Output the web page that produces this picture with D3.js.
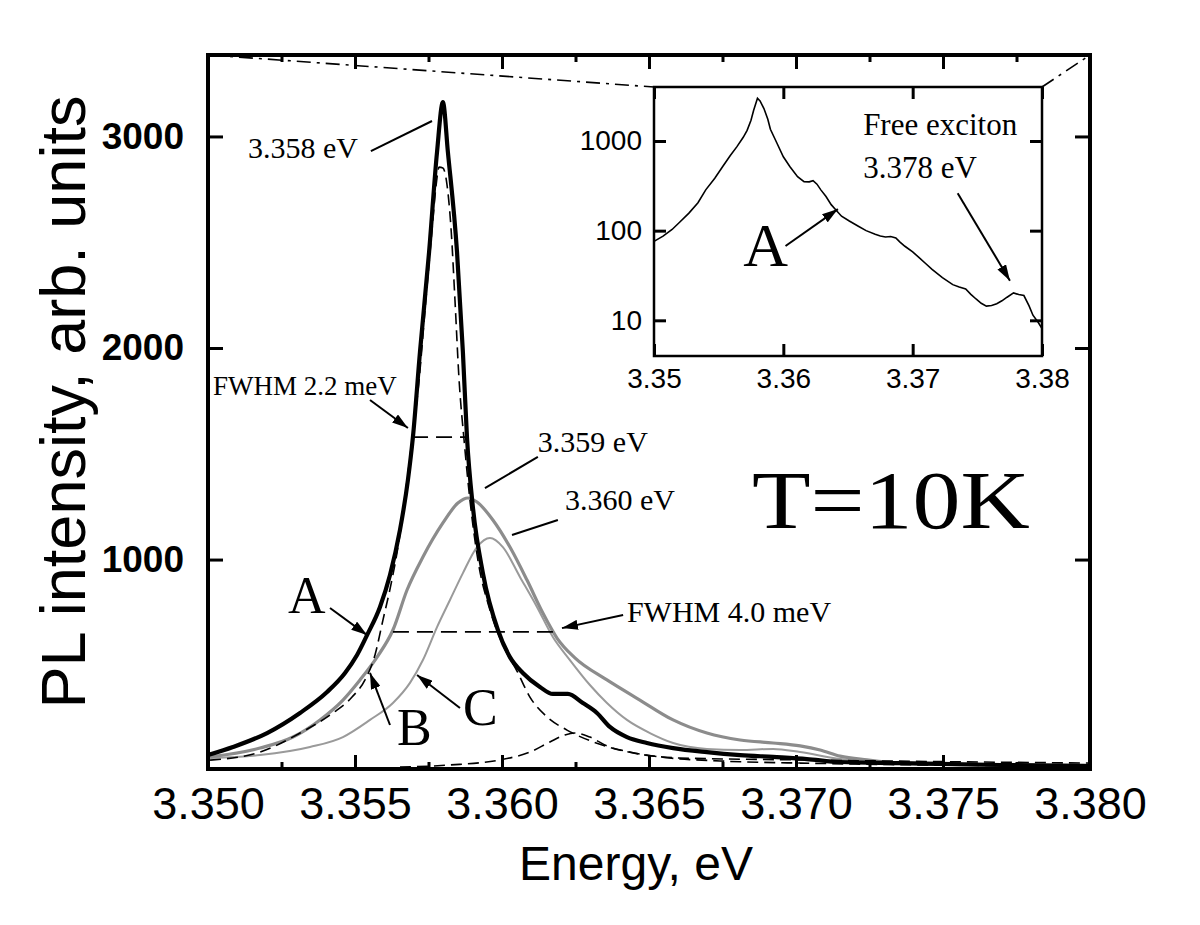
<!DOCTYPE html>
<html>
<head>
<meta charset="utf-8">
<script src="https://cdn.jsdelivr.net/npm/d3@7"></script>
<style>
body { margin:0; background:#fff; }
svg { display:block; }
.ann { font-family:"Liberation Serif","Times New Roman",serif; fill:#000; }
</style>
</head>
<body>
<svg id="chart"></svg>
<script>
// measured spectrum (thick black)
var blackE = [3.3500,3.35085,3.35201,3.35313,3.35405,3.35466,3.35507,3.35541,3.35585,3.35619,3.35653,3.35680,3.35697,3.35721,3.35752,3.35779,3.35799,3.35816,3.35847,3.35867,3.35881,3.35901,3.35935,3.35986,3.36027,3.36071,3.36129,3.36173,3.36224,3.36275,3.36323,3.36367,3.36425,3.36493,3.36582,3.36697,3.36810,3.36922,3.37037,3.37150,3.37354,3.37694,3.3800];
var blackI = [76,114,180,275,374,464,549,643,776,927,1140,1376,1579,1981,2454,2926,3162,2926,2454,1981,1575,1248,936,667,539,464,398,365,365,322,275,209,161,133,109,90,76,67,57,43,38,29,24];

// fitted line A (dashed)
var fitAE = [3.35007,3.35177,3.35313,3.35425,3.35490,3.35534,3.35568,3.35595,3.35622,3.35650,3.35673,3.35694,3.35718,3.35741,3.35762,3.35776,3.35786,3.35799,3.35813,3.35827,3.35840,3.35854,3.35871,3.35891,3.35918,3.35959,3.36003,3.36051,3.36095,3.36153,3.36221,3.36310,3.36446,3.36605,3.37014,3.3800];
var fitAI = [52,90,180,275,350,431,549,714,880,1092,1329,1565,1849,2227,2558,2771,2855,2851,2771,2558,2227,1849,1565,1281,998,762,596,473,350,256,194,138,86,62,53,38];

// fitted shoulder at 3.362 (dashed)
var fitSE = [3.35653,3.35823,3.35993,3.36095,3.36163,3.36214,3.36248,3.36299,3.36357,3.36435,3.36537,3.36741,3.37014,3.3800];
var fitSI = [19,29,53,90,138,171,180,161,119,90,67,48,38,24];

// thick grey spectrum (3.359 eV)
var greyBE = [3.35007,3.35177,3.35289,3.35381,3.35459,3.35517,3.35575,3.35629,3.35677,3.35731,3.35799,3.35850,3.35884,3.35915,3.35969,3.36027,3.36085,3.36139,3.36187,3.36248,3.36357,3.36469,3.36582,3.36697,3.36810,3.36922,3.37014,3.37082,3.37150,3.37241,3.37354,3.37694,3.3800];
var greyBI = [67,109,161,242,336,431,539,667,856,1012,1173,1267,1291,1272,1187,1059,903,747,629,535,431,336,242,180,147,133,119,100,71,53,38,29,24];

// thin grey spectrum (3.360 eV)
var greyCE = [3.35007,3.35177,3.35347,3.35459,3.35551,3.35629,3.35687,3.35731,3.35779,3.35823,3.35867,3.35915,3.35959,3.36003,3.36061,3.36119,3.36173,3.36231,3.36299,3.36357,3.36425,3.36503,3.36582,3.36697,3.36810,3.36922,3.37014,3.37150,3.37354,3.37694,3.3800];
var greyCI = [62,76,114,161,242,322,417,525,681,809,936,1059,1102,1059,918,776,634,525,407,322,242,180,133,105,100,105,90,57,38,29,24];

// FWHM markers
var fwhmA = {e:[3.35694,3.35878], i:1579};
var fwhmB = {e:[3.35629,3.36197], i:658};

// inset: log-scale spectrum
var insetE = [3.3500,3.3507,3.3514,3.3520,3.3527,3.3534,3.3540,3.3547,3.3553,3.3559,3.3564,3.3569,3.3572,3.3575,3.3577,3.3580,3.3582,3.3585,3.3588,3.3590,3.3595,3.3600,3.3605,3.3611,3.3616,3.3620,3.3623,3.3626,3.3629,3.3633,3.3637,3.3641,3.3645,3.3651,3.3658,3.3664,3.3671,3.3675,3.3679,3.3683,3.3687,3.3690,3.3694,3.3700,3.3705,3.3710,3.3715,3.3723,3.3731,3.3736,3.3741,3.3745,3.3749,3.3753,3.3757,3.3761,3.3765,3.3769,3.3773,3.3778,3.3782,3.3786,3.3790,3.3793,3.3797,3.3800];
var insetI = [76,87,103,125,157,205,285,385,516,690,859,1100,1312,1700,2183,3000,2800,2300,1750,1350,950,666,520,400,352,350,361,330,285,240,195,168,145,128,112,100,91,87,85,86,83,75,67,58,50,43,37,30,25,23.5,22.4,19.5,17.3,15.5,14.4,14.6,15.3,16.5,18.1,20.2,19.4,18.9,14.5,11.4,9.5,8.1];

// ticks
var xMajor = [3.350,3.355,3.360,3.365,3.370,3.375,3.380];
var xMinor = [3.3525,3.3575,3.3625,3.3675,3.3725,3.3775];
var yMajor = [1000,2000,3000];
var insetXTicks = [3.35,3.36,3.37,3.38];
var insetYTicks = [10,100,1000];

// annotations (data coordinates)
var labels = [
    {t:"3.358 eV", e:3.35136, i:2898, s:30},
    {t:"FWHM 2.2 meV", e:3.35017, i:1778, s:27},
    {t:"3.359 eV", e:3.36122, i:1508, s:30},
    {t:"3.360 eV", e:3.36214, i:1234, s:30},
    {t:"FWHM 4.0 meV", e:3.36425, i:705, s:30},
    {t:"A", e:3.35272, i:747, s:52},
    {t:"B", e:3.35643, i:123, s:52},
    {t:"C", e:3.35867, i:218, s:52}
];
var leaders = [
    {e:[3.35554,3.35762], i:[2931,3073], head:false},
    {e:[3.36122,3.35942], i:[1485,1338], head:false},
    {e:[3.36190,3.36034], i:[1187,1116], head:false},
    {e:[3.35551,3.35680], i:[1754,1622], head:true},
    {e:[3.36412,3.36204], i:[738,676], head:true},
    {e:[3.35415,3.35541], i:[771,643], head:true},
    {e:[3.35619,3.35551], i:[218,464], head:true},
    {e:[3.35857,3.35711], i:[298,454], head:true}
];
var insetLabels = [
    {t:"Free exciton", e:3.36617, i:1175, s:31},
    {t:"3.378 eV", e:3.36617, i:390, s:31},
    {t:"A", e:3.35691, i:40, s:62}
];
var insetArrows = [
    {e:[3.37348,3.37752], i:[262,27.7]},
    {e:[3.36017,3.36422], i:[67.5,174]}
];

var W = 1200, H = 925;
var frame = {left:208, right:1090, top:55, bottom:769};
var inset = {left:654, right:1042, top:87, bottom:356};
var sans = "'Liberation Sans', Arial, sans-serif";

var svg = d3.select("#chart").attr("width", W).attr("height", H);

var defs = svg.append("defs");
defs.append("marker")
    .attr("id", "arrow")
    .attr("viewBox", "0 0 16 10")
    .attr("refX", 16).attr("refY", 5)
    .attr("markerWidth", 16).attr("markerHeight", 10)
    .attr("markerUnits", "userSpaceOnUse")
    .attr("orient", "auto")
    .append("path").attr("d", "M0,0 L16,5 L0,10 z").attr("fill", "#000");

var x = d3.scaleLinear().domain([3.35, 3.38]).range([frame.left, frame.right]);
var y = d3.scaleLinear().domain([10, 3385]).range([frame.bottom, frame.top]);

var zip = function(es, is) { return es.map(function(e, k) { return [e, is[k]]; }); };

var line = d3.line()
    .x(function(d) { return x(d[0]); })
    .y(function(d) { return y(d[1]); })
    .curve(d3.curveMonotoneX);

// dash-dot zoom lines to the inset
svg.append("line")
    .attr("x1", frame.left + 2).attr("y1", frame.top)
    .attr("x2", inset.left).attr("y2", inset.top)
    .attr("stroke", "#000").attr("stroke-width", 1.6)
    .attr("stroke-dasharray", "14,6,3,6");
svg.append("line")
    .attr("x1", inset.right).attr("y1", inset.top)
    .attr("x2", frame.right).attr("y2", frame.top)
    .attr("stroke", "#000").attr("stroke-width", 1.6)
    .attr("stroke-dasharray", "14,6,3,6");

var plot = svg.append("g");

plot.append("path").datum(zip(greyCE, greyCI))
    .attr("d", line).attr("fill", "none")
    .attr("stroke", "#9a9a9a").attr("stroke-width", 2);
plot.append("path").datum(zip(greyBE, greyBI))
    .attr("d", line).attr("fill", "none")
    .attr("stroke", "#8c8c8c").attr("stroke-width", 3.2);
plot.append("path").datum(zip(fitSE, fitSI))
    .attr("d", line).attr("fill", "none")
    .attr("stroke", "#000").attr("stroke-width", 1.6)
    .attr("stroke-dasharray", "11,6");
plot.append("path").datum(zip(fitAE, fitAI))
    .attr("d", line).attr("fill", "none")
    .attr("stroke", "#000").attr("stroke-width", 1.6)
    .attr("stroke-dasharray", "11,6");
plot.append("path").datum(zip(blackE, blackI))
    .attr("d", line).attr("fill", "none")
    .attr("stroke", "#000").attr("stroke-width", 4.2)
    .attr("stroke-linejoin", "round");

[fwhmA, fwhmB].forEach(function(f) {
    plot.append("line")
        .attr("x1", x(f.e[0])).attr("x2", x(f.e[1]))
        .attr("y1", y(f.i)).attr("y2", y(f.i))
        .attr("stroke", "#000").attr("stroke-width", 1.8)
        .attr("stroke-dasharray", "16,8");
});

// annotations
plot.selectAll("line.lead").data(leaders).enter()
    .append("line").classed("lead", true)
    .attr("x1", function(d) { return x(d.e[0]); })
    .attr("y1", function(d) { return y(d.i[0]); })
    .attr("x2", function(d) { return x(d.e[1]); })
    .attr("y2", function(d) { return y(d.i[1]); })
    .attr("stroke", "#000").attr("stroke-width", 2)
    .attr("marker-end", function(d) { return d.head ? "url(#arrow)" : null; });

plot.selectAll("text.lab").data(labels).enter()
    .append("text").attr("class", "ann lab")
    .attr("x", function(d) { return x(d.e); })
    .attr("y", function(d) { return y(d.i); })
    .attr("font-size", function(d) { return d.s; })
    .text(function(d) { return d.t; });

plot.append("text").attr("class", "ann")
    .attr("x", x(3.3685)).attr("y", y(1149))
    .attr("font-size", 82)
    .attr("textLength", 278).attr("lengthAdjust", "spacingAndGlyphs")
    .text("T=10K");

// main frame and axes
var styleAxis = function(g, size, weight) {
    g.attr("font-family", sans).attr("font-size", size).attr("font-weight", weight || "normal");
    g.select(".domain").remove();
    g.selectAll("line").attr("stroke", "#000").attr("stroke-width", 3);
    g.selectAll("text").attr("fill", "#000");
};

svg.append("g").attr("transform", "translate(0," + frame.bottom + ")")
    .call(d3.axisBottom(x).tickValues(xMajor).tickFormat(d3.format(".3f"))
        .tickSizeInner(-14).tickSizeOuter(0).tickPadding(18))
    .call(styleAxis, 45);
svg.append("g").attr("transform", "translate(0," + frame.bottom + ")")
    .call(d3.axisBottom(x).tickValues(xMinor).tickFormat("").tickSizeInner(-7).tickSizeOuter(0))
    .call(styleAxis, 10);
svg.append("g").attr("transform", "translate(0," + frame.top + ")")
    .call(d3.axisTop(x).tickValues(xMajor).tickFormat("").tickSizeInner(-14).tickSizeOuter(0))
    .call(styleAxis, 10);
svg.append("g").attr("transform", "translate(0," + frame.top + ")")
    .call(d3.axisTop(x).tickValues(xMinor).tickFormat("").tickSizeInner(-7).tickSizeOuter(0))
    .call(styleAxis, 10);
svg.append("g").attr("transform", "translate(" + frame.left + ",0)")
    .call(d3.axisLeft(y).tickValues(yMajor).tickFormat(d3.format("d"))
        .tickSizeInner(-15).tickSizeOuter(0).tickPadding(24))
    .call(styleAxis, 37, "bold");
svg.append("g").attr("transform", "translate(" + frame.right + ",0)")
    .call(d3.axisRight(y).tickValues(yMajor).tickFormat("").tickSizeInner(-15).tickSizeOuter(0))
    .call(styleAxis, 10);

svg.append("rect")
    .attr("x", frame.left).attr("y", frame.top)
    .attr("width", frame.right - frame.left).attr("height", frame.bottom - frame.top)
    .attr("fill", "none").attr("stroke", "#000").attr("stroke-width", 4);

svg.append("text")
    .attr("font-family", sans).attr("font-size", 48)
    .attr("text-anchor", "middle")
    .attr("x", 636).attr("y", 880)
    .text("Energy, eV");

svg.append("g").attr("transform", "translate(85,402)")
    .append("text")
    .attr("font-family", sans).attr("font-size", 63)
    .attr("text-anchor", "middle")
    .attr("transform", "rotate(-90)")
    .text("PL intensity, arb. units");

// inset
var ix = d3.scaleLinear().domain([3.35, 3.38]).range([inset.left, inset.right]);
var iy = d3.scaleLog().domain([4, 4000]).range([inset.bottom, inset.top]);

var iline = d3.line()
    .x(function(d) { return ix(d[0]); })
    .y(function(d) { return iy(d[1]); });

var ig = svg.append("g");
ig.append("rect")
    .attr("x", inset.left).attr("y", inset.top)
    .attr("width", inset.right - inset.left).attr("height", inset.bottom - inset.top)
    .attr("fill", "#fff");

ig.append("path").datum(zip(insetE, insetI))
    .attr("d", iline).attr("fill", "none")
    .attr("stroke", "#000").attr("stroke-width", 1.6);

ig.selectAll("text.ilab").data(insetLabels).enter()
    .append("text").attr("class", "ann ilab")
    .attr("x", function(d) { return ix(d.e); })
    .attr("y", function(d) { return iy(d.i); })
    .attr("font-size", function(d) { return d.s; })
    .text(function(d) { return d.t; });

ig.selectAll("line.iarr").data(insetArrows).enter()
    .append("line").classed("iarr", true)
    .attr("x1", function(d) { return ix(d.e[0]); })
    .attr("y1", function(d) { return iy(d.i[0]); })
    .attr("x2", function(d) { return ix(d.e[1]); })
    .attr("y2", function(d) { return iy(d.i[1]); })
    .attr("stroke", "#000").attr("stroke-width", 2)
    .attr("marker-end", "url(#arrow)");

ig.append("g").attr("transform", "translate(0," + inset.bottom + ")")
    .call(d3.axisBottom(ix).tickValues(insetXTicks).tickFormat(d3.format(".2f"))
        .tickSizeInner(-12).tickSizeOuter(0).tickPadding(12))
    .call(styleAxis, 28);
ig.append("g").attr("transform", "translate(0," + inset.top + ")")
    .call(d3.axisTop(ix).tickValues(insetXTicks).tickFormat("").tickSizeInner(-12).tickSizeOuter(0))
    .call(styleAxis, 10);
ig.append("g").attr("transform", "translate(" + inset.left + ",0)")
    .call(d3.axisLeft(iy).tickValues(insetYTicks).tickFormat(d3.format("d"))
        .tickSizeInner(-12).tickSizeOuter(0).tickPadding(12))
    .call(styleAxis, 28);
ig.append("g").attr("transform", "translate(" + inset.right + ",0)")
    .call(d3.axisRight(iy).tickValues(insetYTicks).tickFormat("").tickSizeInner(-12).tickSizeOuter(0))
    .call(styleAxis, 10);

ig.append("rect")
    .attr("x", inset.left).attr("y", inset.top)
    .attr("width", inset.right - inset.left).attr("height", inset.bottom - inset.top)
    .attr("fill", "none").attr("stroke", "#000").attr("stroke-width", 2.5);
</script>
</body>
</html>
